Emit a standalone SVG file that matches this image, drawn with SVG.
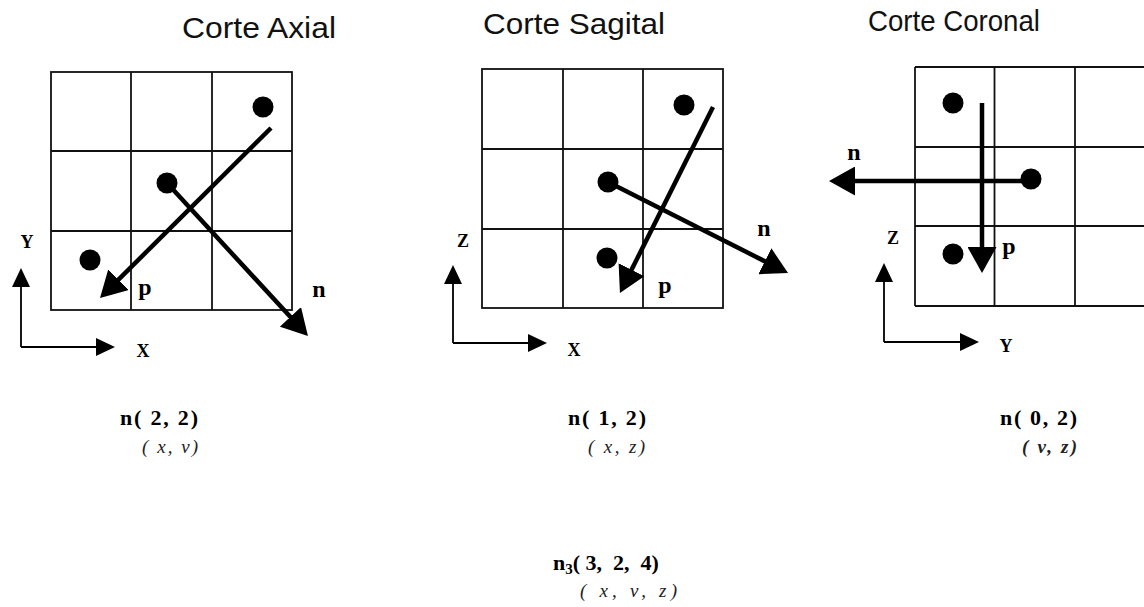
<svg xmlns="http://www.w3.org/2000/svg" width="1144" height="607" viewBox="0 0 1144 607">
<style>
.title{font-family:"Liberation Sans",Arial,sans-serif;font-size:30px;fill:#111}
.grid{fill:#fff;stroke:#111;stroke-width:1.8}
.gl{stroke:#111;stroke-width:1.8}
.dot{fill:#000}
.vec{stroke:#000;stroke-width:4.5;fill:none}
.ax{stroke:#000;stroke-width:1.8;fill:none}
.lbl{font-family:"Liberation Serif","Times New Roman",serif;font-weight:bold;font-size:24px;fill:#000;text-anchor:middle}
.axl{font-family:"Liberation Serif","Times New Roman",serif;font-weight:bold;font-size:18px;fill:#000;text-anchor:middle}
.coord{font-family:"Liberation Serif","Times New Roman",serif;font-weight:bold;font-size:22px;fill:#000}
.it{font-family:"Liberation Serif","Times New Roman",serif;font-style:italic;font-size:19px;fill:#222}
</style>
<defs>
<marker id="big" viewBox="0 0 26 29" refX="6" refY="14.5" markerWidth="26" markerHeight="29" markerUnits="userSpaceOnUse" orient="auto">
<path d="M0,0 L26,14.5 L0,29 Z" fill="#000"/>
</marker>
<marker id="small" viewBox="0 0 19 18" refX="4" refY="9" markerWidth="19" markerHeight="18" markerUnits="userSpaceOnUse" orient="auto">
<path d="M0,0 L19,9 L0,18 Z" fill="#000"/>
</marker>
</defs>
<rect width="1144" height="607" fill="#fff"/>

<g id="axial">
<text class="title" x="182" y="38" textLength="154" lengthAdjust="spacingAndGlyphs">Corte Axial</text>
<rect class="grid" x="51" y="72" width="241" height="238"/>
<line class="gl" x1="131" y1="72" x2="131" y2="310"/>
<line class="gl" x1="212" y1="72" x2="212" y2="310"/>
<line class="gl" x1="51" y1="151" x2="292" y2="151"/>
<line class="gl" x1="51" y1="231" x2="292" y2="231"/>
<circle class="dot" cx="263" cy="107" r="10.5"/>
<circle class="dot" cx="167" cy="183" r="10.5"/>
<circle class="dot" cx="90" cy="260" r="10.5"/>
<text class="lbl" x="145" y="295">p</text>
<text class="lbl" x="319" y="297">n</text>
<text class="axl" x="27" y="248">Y</text>
<text class="axl" x="143" y="357">X</text>
</g>

<g id="sagital">
<text class="title" x="483" y="34" textLength="182" lengthAdjust="spacingAndGlyphs">Corte Sagital</text>
<rect class="grid" x="482" y="69" width="241" height="239"/>
<line class="gl" x1="563" y1="69" x2="563" y2="308"/>
<line class="gl" x1="643" y1="69" x2="643" y2="308"/>
<line class="gl" x1="482" y1="149" x2="723" y2="149"/>
<line class="gl" x1="482" y1="229" x2="723" y2="229"/>
<circle class="dot" cx="684" cy="105" r="10.5"/>
<circle class="dot" cx="608" cy="182" r="10.5"/>
<circle class="dot" cx="607" cy="258" r="10.5"/>
<text class="lbl" x="665" y="293">p</text>
<text class="lbl" x="764" y="236">n</text>
<text class="axl" x="463" y="247">Z</text>
<text class="axl" x="574" y="356">X</text>
</g>

<g id="coronal">
<text class="title" x="868" y="31" textLength="172" lengthAdjust="spacingAndGlyphs">Corte Coronal</text>
<line class="gl" x1="915" y1="67" x2="1144" y2="67"/>
<line class="gl" x1="915" y1="147" x2="1144" y2="147"/>
<line class="gl" x1="915" y1="226" x2="1144" y2="226"/>
<line class="gl" x1="915" y1="306" x2="1144" y2="306"/>
<line class="gl" x1="915" y1="67" x2="915" y2="306"/>
<line class="gl" x1="994.5" y1="67" x2="994.5" y2="306"/>
<line class="gl" x1="1075" y1="67" x2="1075" y2="306"/>
<circle class="dot" cx="953" cy="103" r="10.5"/>
<circle class="dot" cx="1031" cy="179" r="10.5"/>
<circle class="dot" cx="953" cy="254" r="10.5"/>
<text class="lbl" x="1009" y="254">p</text>
<text class="lbl" x="854" y="160">n</text>
<text class="axl" x="893" y="244">Z</text>
<text class="axl" x="1006" y="352">Y</text>
</g>

<g id="connectors">
<line class="vec" x1="271" y1="128" x2="114.2" y2="283.9" marker-end="url(#big)"/>
<line class="vec" x1="167" y1="183" x2="294.4" y2="321.3" marker-end="url(#big)"/>
<line class="vec" x1="713" y1="107" x2="628.9" y2="275.1" marker-end="url(#big)"/>
<line class="vec" x1="608" y1="182" x2="770.2" y2="264" marker-end="url(#big)"/>
<line class="vec" x1="1031" y1="181" x2="849" y2="181" marker-end="url(#big)"/>
<line class="vec" x1="982" y1="103" x2="982" y2="253" marker-end="url(#big)"/>
<polyline class="ax" points="21,347 100,347" marker-end="url(#small)"/>
<line class="ax" x1="21" y1="347" x2="21" y2="283" marker-end="url(#small)"/>
<polyline class="ax" points="453,343 532,343" marker-end="url(#small)"/>
<line class="ax" x1="453" y1="343" x2="453" y2="280" marker-end="url(#small)"/>
<polyline class="ax" points="884,342 964,342" marker-end="url(#small)"/>
<line class="ax" x1="884" y1="342" x2="884" y2="278" marker-end="url(#small)"/>
</g>

<g id="labels">
<text class="coord" x="120" y="425" textLength="78" lengthAdjust="spacing">n( 2, 2)</text>
<text class="it" x="142" y="453" textLength="56" lengthAdjust="spacing">( x, v)</text>
<text class="coord" x="568" y="425" textLength="78" lengthAdjust="spacing">n( 1, 2)</text>
<text class="it" x="588" y="453" textLength="57" lengthAdjust="spacing">( x, z)</text>
<text class="coord" x="1000" y="425" textLength="77" lengthAdjust="spacing">n( 0, 2)</text>
<text class="it" x="1022" y="453" textLength="55" lengthAdjust="spacing" font-weight="bold">( v, z)</text>
<text class="coord" x="553" y="570">n<tspan font-size="15" dy="4">3</tspan><tspan dy="-4" xml:space="preserve">( 3,  2,  4)</tspan></text>
<text class="it" x="580" y="597" textLength="97" lengthAdjust="spacing">( x,  v,  z)</text>
</g>
</svg>
